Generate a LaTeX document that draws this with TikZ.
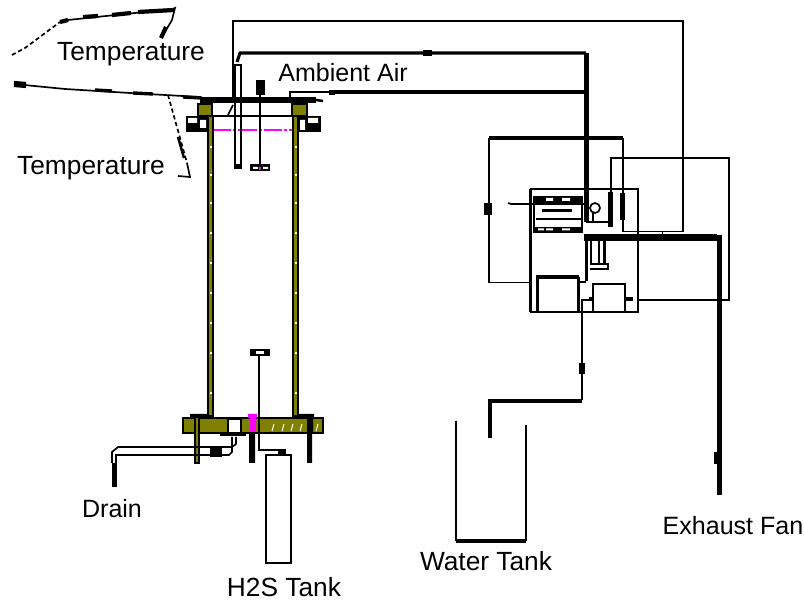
\documentclass[tikz,border=0pt]{standalone}
\usepackage{fontspec}
\setmainfont{Liberation Sans}
\usepackage[x11names]{xcolor}
\usetikzlibrary{positioning}
\definecolor{wallolive}{RGB}{128,128,0}
\definecolor{sealpink}{RGB}{255,0,255}
\tikzset{
  wire/.style={line width=1.2pt,black},
  heavy/.style={line width=2.6pt,black},
  tc/.style={line width=1.2pt,black},
  tcdash/.style={line width=3pt,black},
  wall/.style={draw=black,line width=1pt,fill=wallolive},
  lbl/.style={font=\fontsize{17.8}{20}\selectfont,inner sep=0pt},
  lblwide/.style={font=\fontsize{18.7}{20}\selectfont,inner sep=0pt},
}
\begin{document}
\begin{tikzpicture}[x=0.025cm,y=-0.025cm]
       \useasboundingbox (0,0) rectangle (804,603);
       % labels
       \node[lblwide] (tempa) at (131,54) {Temperature};
       \node[lblwide] (tempb) at (91,168) {Temperature};
       \node[lbl] (ambient) at (343,73) {Ambient Air};
       \node[lbl] (drain) at (112,509) {Drain};
       \node[lblwide] (htank) at (284,587) {H2S Tank};
       \node[lblwide] (wtank) at (486,561) {Water Tank};
       \node[lbl] (fan) at (733,526) {Exhaust Fan};
       % temperature leads
       \draw[tc,densely dashed] (12,55) -- (25,48) -- (60,22);
       \draw[tc] (60,22) -- (68,20) -- (173,9) -- (175,8) -- (172,20) -- (162,37);
       \draw[tcdash] (60,22) -- (68,20) (83,17) -- (98,16) (112,15) -- (131,13) (138,12) -- (174,10) (166,27) -- (161,38);
       \draw[tc] (14,84) -- (65,89) -- (130,93) -- (200,97);
       \draw[line width=4.4pt] (14,84) -- (26,85);
       \draw[tcdash,line width=2.4pt] (95,90) -- (112,91) (133,93) -- (153,94);
       \draw[tc,densely dashed] (168,95) -- (187,163);
       \draw[tc] (187,163) -- (190,177) -- (178,176);
       \draw[tcdash,line width=1.8pt] (178,137) -- (184,158);
       % top plate and flanges
       \draw[line width=2.4pt] (183,97) -- (202,98);
       \draw[line width=4pt] (200,100) -- (316,100);
       \draw[line width=1.8pt] (316,100) -- (323,101);
       \draw[wall] (198,104) rectangle (212,116);
       \draw[wall] (292,104) rectangle (307,116);
       \draw[wire] (198,116) -- (307,116);
       \draw[line width=1pt,fill=black] (187,117) rectangle (207,131);
       \draw[line width=1pt,fill=black] (300,117) rectangle (320,131);
       \fill[white] (188,118) rectangle (197,123) (200,120) rectangle (206,128) (308,118) rectangle (318,123) (300,120) rectangle (305,130);
       \draw[sealpink,line width=1.4pt,dash pattern=on 13pt off 1.5pt on 2pt off 1.5pt] (213,130) -- (292,130);
       % column walls
       \draw[wall] (208,116) rectangle (213,416);
       \draw[wall] (293,116) rectangle (298,416);
       \foreach \wy in {146,174,202,232,262,292,322,352,392} {
         \fill[white] (210,\wy) rectangle (212,\wy+2);
         \fill[white] (295,\wy) rectangle (297,\wy+2);
       }
       % probes in the column head
       \draw[wire] (235,65) -- (235,168) -- (241,168) -- (241,65) -- cycle;
       \draw[line width=3pt] (235,166) -- (241,166);
       \draw[wire] (228,115) -- (233,105);
       \draw[line width=2pt] (260,86) -- (260,166);
       \draw[line width=6.2pt] (260.5,80) -- (260.5,95);
       \fill (250,164) rectangle (270,171);
       \fill[white] (253,167) rectangle (258,169) (263,167) rectangle (268,169);
       \fill[sealpink] (259,167) rectangle (261,170);
       % bottom flange
       \draw[wall] (183,418) rectangle (323,433);
       \fill (190,414) rectangle (208,418) (298,414) rectangle (314,418) (307,418) rectangle (313,433);
       \draw[line width=1pt,fill=white] (228,419) rectangle (241,433);
       \fill (220,433) rectangle (246,436);
       \fill[sealpink] (248,414) rectangle (257,418) (250,418) rectangle (256,432);
       \fill (249,433) rectangle (255,463) (307,433) rectangle (312,463);
       \draw[wall] (195,417) rectangle (199,463);
       \foreach \wx in {272,282,291,300,316} {
         \draw[white,line width=0.7pt] (\wx,431) -- (\wx+2,424);
       }
       % gas feed and tank
       \draw[line width=1.6pt] (259,352) -- (259,450) -- (285,450) -- (285,455);
       \fill (250,349) rectangle (270,356);
       \fill[white] (256,351) rectangle (264,354);
       \draw[wire] (266,563) -- (266,455) -- (291,455) -- (291,563) -- cycle;
       \fill (278,450) rectangle (286,456);
       % drain
       \draw[wire] (236,437) -- (236,444) -- (232,447) -- (118,447) -- (112,452) -- (112,463);
       \draw[wire] (232,437) -- (232,452) -- (229,455) -- (116,455) -- (116,463);
       \fill (210,448) rectangle (222,457);
       \draw[line width=3.4pt] (114.5,463) -- (114.5,487);
       % upper leads to the meter box
       \draw[wire] (233,97) -- (233,21) -- (683,21) -- (683,231.5) -- (623,231.5) -- (623,138);
       \draw[line width=2.2pt] (237,62) -- (240,53) -- (586,53);
       \fill (423,50) rectangle (432,56);
       \draw[wire] (290,97) -- (290,92) -- (332,92);
       \draw[line width=2.2pt] (332,92) -- (586,92);
       \fill (329,90) rectangle (335,95);
       \draw[line width=3.6pt] (586.5,53) -- (586.5,222);
       \draw[line width=2.4pt] (489,138) -- (623,138);
       \draw[wire] (489,138) -- (489,282.5) -- (530,282.5);
       \fill (484,203) rectangle (492,215);
       % meter box
       \draw[wire] (530,189) -- (638,189) -- (638,312) -- (530,312);
       \draw[line width=2.4pt] (530.5,189) -- (530.5,312);
       \draw[wire] (534,197) rectangle (582,232);
       \fill (534,197) rectangle (582,203);
       \fill[white] (546,198) rectangle (553,201) (562,198) rectangle (570,201);
       \draw[line width=2.8pt] (542,210.5) -- (572,210.5);
       \draw[wire] (536,219) -- (582,219);
       \fill (534,227) rectangle (582,232);
       \fill[white] (538,228.5) rectangle (544,230.5) (546,228.5) rectangle (553,230.5) (562,228.5) rectangle (570,230.5);
       \draw[wire] (508,203) -- (511,204) -- (586,204);
       \draw[wire] (595,208) circle (5);
       \draw[wire] (593,213) -- (593,222);
       \draw[line width=1.8pt] (586,222) -- (612,222);
       % right hand probes
       \draw[wire] (611,192) -- (611,158) -- (729,158) -- (729,300) -- (638,300);
       \draw[line width=3.6pt] (610.5,192) -- (610.5,227);
       \draw[line width=3.6pt] (622.5,193) -- (622.5,220);
       % exhaust duct
       \draw[line width=4.4pt] (584,237.5) -- (717,237.5);
       \draw[line width=3.6pt] (719.5,235) -- (719.5,495);
       \draw[line width=2.8pt] (586.5,234) -- (586.5,281);
       \draw[line width=1.6pt] (591,241) -- (591,264) (599,241) -- (599,264) (604.5,241) -- (604.5,264);
       \draw[line width=1.4pt] (590,264) -- (608,264) -- (608,269) -- (590,269);
       \draw[wire] (586,282) -- (580,282);
       \draw[wire] (662.5,232) -- (662.5,235);
       % boxes inside the meter box
       \draw[line width=2.8pt] (536,277) -- (579,277);
       \draw[line width=2.2pt] (537.5,277) -- (537.5,312);
       \draw[line width=1.5pt] (578.5,277) -- (578.5,312);
       \draw[wire] (593,312) -- (593,284) -- (625,284) -- (625,312);
       \draw[line width=2.2pt] (625,299) -- (633,299);
       % water feed and tank
       \draw[wire] (582,400) -- (582,300) -- (589,300);
       \draw[line width=2.2pt] (589,299) -- (594,299);
       \draw[line width=4pt] (582,363) -- (582,374);
       \draw[line width=3pt] (582,401) -- (490,401) -- (490,438);
       \draw[line width=1.5pt] (456,421) -- (456,541);
       \draw[line width=1.5pt] (526,425) -- (526,541);
       \draw[line width=2.6pt] (456,541) -- (526,541);
       % fan knob
       \draw[line width=6pt] (718,452) -- (718,464);
\end{tikzpicture}
\end{document}
